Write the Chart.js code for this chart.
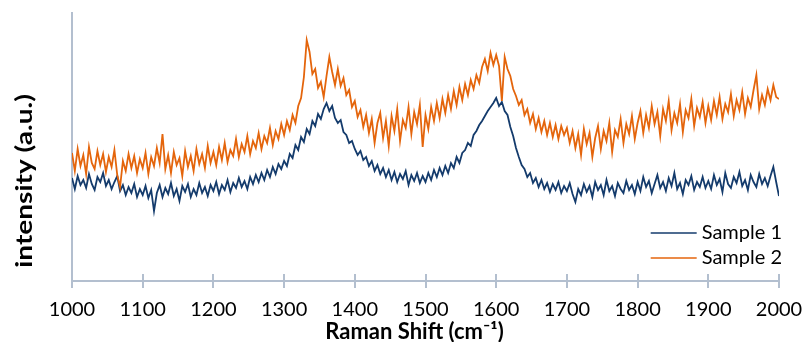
<!DOCTYPE html>
<html><head><meta charset="utf-8">
<script src="https://cdn.jsdelivr.net/npm/chart.js@4"></script>
<style>html,body{margin:0;padding:0;background:#fff}#wrap{width:805px;height:342px}</style>
</head><body><div id="wrap"><canvas id="c" width="805" height="342"></canvas></div>
<script>
// Raman shift sampling (cm^-1): start and step of the spectra below
const shiftStart = 1000;
const shiftStep = 4;
const xTickLabels = [1000, 1100, 1200, 1300, 1400, 1500, 1600, 1700, 1800, 1900, 2000];
const seriesNames = ['Sample 1', 'Sample 2'];
const xTitle = 'Raman Shift (cm⁻¹)';
const yTitle = 'intensity (a.u.)';

// intensity (a.u.), one value per 4 cm^-1 (one row = 100 cm^-1)
const sample1 = [
 103, 92, 105, 96, 101, 93, 107, 97, 91, 104, 99, 108, 95, 101, 92, 99, 105, 90, 96, 86, 94, 88, 97, 84, 92,
 86, 95, 83, 91, 70, 88, 96, 84, 93, 87, 98, 85, 92, 80, 95, 89, 97, 84, 92, 86, 98, 88, 94, 85, 96,
 90, 99, 87, 96, 91, 101, 89, 98, 93, 103, 94, 100, 92, 104, 97, 106, 99, 108, 101, 111, 104, 114, 107, 117, 112,
 120, 115, 127, 123, 136, 131, 144, 139, 152, 147, 160, 155, 167, 162, 172, 178, 170, 175, 163, 158, 161, 149, 146, 138, 140,
 132, 126, 130, 121, 124, 115, 120, 110, 116, 107, 113, 104, 111, 101, 109, 99, 107, 102, 110, 96, 106, 100, 108, 98, 105,
 99, 108, 101, 111, 104, 113, 106, 115, 108, 118, 113, 124, 118, 128, 131, 138, 135, 146, 150, 156, 160, 165, 170, 174, 178,
 183, 175, 179, 170, 166, 154, 145, 133, 124, 116, 112, 104, 108, 98, 103, 94, 101, 92, 98, 89, 97, 91, 99, 88, 95,
 90, 98, 87, 79, 92, 86, 97, 89, 95, 84, 99, 91, 96, 86, 101, 90, 95, 85, 98, 92, 88, 100, 91, 96, 87,
 99, 90, 104, 94, 100, 88, 97, 106, 93, 99, 90, 103, 95, 108, 92, 98, 87, 101, 96, 105, 91, 99, 94, 104, 93,
 100, 92, 106, 96, 102, 89, 108, 97, 93, 104, 98, 109, 95, 101, 91, 106, 99, 94, 107, 97, 103, 95, 105, 114, 99,
 85
];
const sample2 = [
 128, 110, 132, 115, 126, 107, 134, 118, 112, 130, 116, 127, 109, 124, 114, 131, 106, 94, 120, 110, 127, 113, 125, 108, 122,
 113, 128, 107, 124, 115, 133, 118, 147, 112, 126, 108, 129, 116, 123, 105, 130, 114, 125, 110, 132, 117, 127, 113, 135, 118,
 129, 116, 134, 121, 138, 119, 131, 125, 142, 124, 137, 129, 145, 127, 140, 133, 148, 132, 145, 138, 153, 136, 150, 142, 157,
 146, 160, 151, 166, 158, 175, 183, 204, 241, 229, 207, 212, 193, 199, 184, 205, 224, 209, 196, 212, 195, 203, 186, 191, 174,
 180, 164, 171, 154, 166, 148, 162, 138, 158, 168, 143, 160, 135, 165, 150, 172, 140, 161, 153, 174, 147, 169, 157, 176, 134,
 166, 152, 174, 160, 178, 163, 182, 168, 186, 172, 190, 176, 194, 181, 197, 186, 201, 192, 206, 198, 214, 222, 210, 228, 216,
 226, 215, 180, 224, 212, 205, 192, 185, 176, 181, 166, 172, 158, 167, 152, 163, 149, 160, 146, 158, 144, 156, 142, 155, 146,
 153, 138, 150, 133, 147, 126, 152, 137, 148, 124, 143, 155, 132, 150, 140, 158, 129, 151, 144, 162, 138, 157, 147, 165, 142,
 158, 170, 148, 166, 153, 175, 157, 169, 145, 172, 160, 180, 151, 168, 158, 177, 149, 171, 163, 182, 155, 173, 164, 179, 158,
 175, 161, 180, 166, 184, 162, 177, 169, 187, 165, 181, 171, 189, 167, 183, 174, 191, 206, 172, 186, 176, 192, 181, 196, 184,
 182
];

const colors = ['#143b6c', '#e4650c'];
const axisColor = '#b3bfcf';

const toPoints = arr => arr.map((v, i) => ({ x: shiftStart + i * shiftStep, y: v }));

const decor = {
  id: 'decor',
  afterDraw(chart) {
    const { ctx, chartArea: a, scales: { x } } = chart;
    ctx.save();
    ctx.strokeStyle = axisColor;
    ctx.lineWidth = 2;
    x.ticks.forEach(t => {
      const px = Math.round(x.getPixelForValue(t.value));
      ctx.beginPath();
      ctx.moveTo(px, a.bottom - 7);
      ctx.lineTo(px, a.bottom + 7);
      ctx.stroke();
    });
    // legend, bottom right inside the plot
    ctx.font = '20px Lato';
    ctx.textBaseline = 'middle';
    ctx.textAlign = 'left';
    ctx.fillStyle = '#000';
    const ds = chart.data.datasets;
    const w = Math.max(...ds.map(d => ctx.measureText(d.label).width));
    const tx = a.right + 3 - w;
    ds.forEach((d, i) => {
      const y = a.bottom - 48 + i * 25;
      ctx.strokeStyle = d.borderColor;
      ctx.lineWidth = 1.5;
      ctx.beginPath();
      ctx.moveTo(tx - 51, y);
      ctx.lineTo(tx - 5, y);
      ctx.stroke();
      ctx.fillText(d.label, tx, y);
    });
    // x axis title
    ctx.font = 'bold 22px Lato';
    ctx.textAlign = 'center';
    ctx.fillText(xTitle, (a.left + a.right) / 2 - 11, a.bottom + 51);
    ctx.restore();
    // y axis title (tall, narrow lettering like the original)
    ctx.save();
    ctx.translate(25, (a.top + a.bottom) / 2 + 34);
    ctx.rotate(-Math.PI / 2);
    ctx.scale(1.22, 1);
    ctx.font = 'bold 23px Lato';
    ctx.textAlign = 'center';
    ctx.textBaseline = 'middle';
    ctx.fillStyle = '#000';
    ctx.fillText(yTitle, 0, 0);
    ctx.restore();
  }
};

new Chart(document.getElementById('c'), {
  type: 'line',
  data: {
    datasets: [
      { label: seriesNames[0], data: toPoints(sample1), borderColor: colors[0], borderWidth: 1.8, pointRadius: 0, tension: 0, order: 2 },
      { label: seriesNames[1], data: toPoints(sample2), borderColor: colors[1], borderWidth: 1.8, pointRadius: 0, tension: 0, order: 1 }
    ]
  },
  options: {
    responsive: false,
    animation: false,
    devicePixelRatio: 1,
    layout: { padding: { left: 0, right: 26, top: 13, bottom: 0 } },
    plugins: { legend: { display: false }, tooltip: { enabled: false } },
    scales: {
      x: {
        type: 'linear', min: 1000, max: 2000,
        afterBuildTicks: s => { s.ticks = xTickLabels.map(v => ({ value: v })); },
        ticks: { font: { family: 'Lato', size: 20 }, color: '#000', padding: 9, maxRotation: 0,
                 callback: v => String(v) },
        grid: { display: false },
        border: { display: true, color: axisColor, width: 2 },
        title: { display: false },
        afterFit: s => { s.height = 61; s.paddingLeft = 0; s.paddingRight = 0; }
      },
      y: {
        type: 'linear', min: 0, max: 268,
        ticks: { display: false },
        grid: { display: false },
        border: { display: true, color: axisColor, width: 2 },
        title: { display: false },
        afterFit: s => { s.width = 72; s.paddingTop = 0; s.paddingBottom = 0; }
      }
    }
  },
  plugins: [decor]
});
</script>
</body></html>
